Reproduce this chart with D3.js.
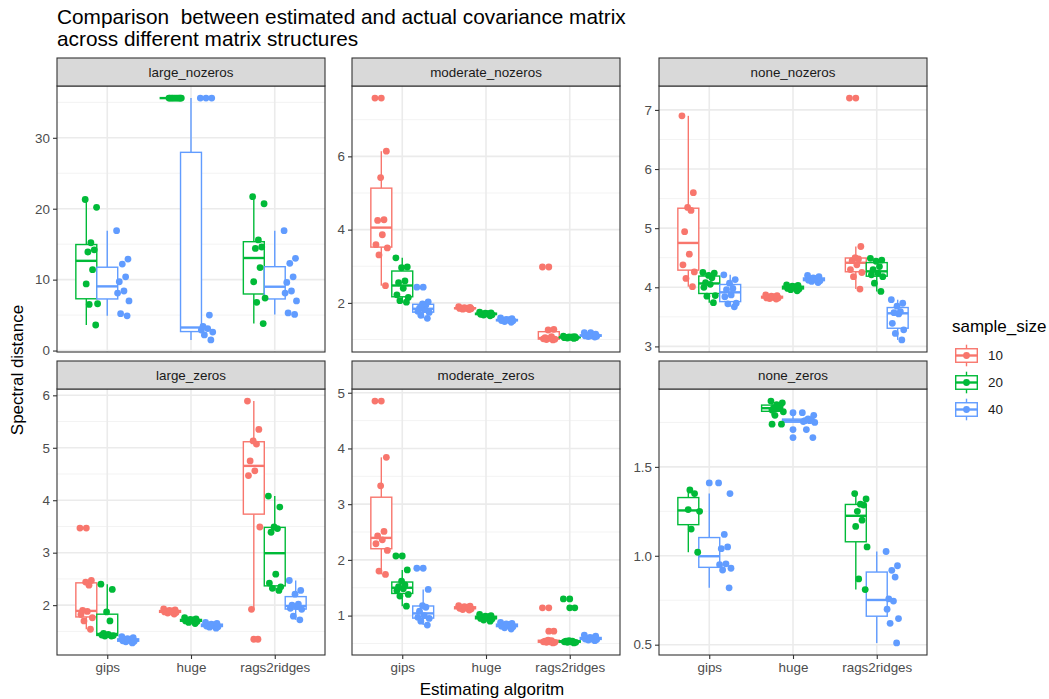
<!DOCTYPE html>
<html>
<head>
<meta charset="utf-8">
<script src="https://cdn.jsdelivr.net/npm/d3@7"></script>
<style>
  body { margin: 0; background: #fff; }
  text { font-family: "Liberation Sans", Arial, sans-serif; }
</style>
</head>
<body>
<div id="chart"></div>
<script>
// facets, categories and groups
const structures = ['large_nozeros', 'moderate_nozeros', 'none_nozeros', 'large_zeros', 'moderate_zeros', 'none_zeros'];
const algorithms = ['gips', 'huge', 'rags2ridges'];
const sampleSizes = ['10', '20', '40'];
const sizeColors = ['#F8766D', '#00BA38', '#619CFF'];

// spectral distance per [algorithm, sample_size, values]
const largeNozeros = [
  ['gips', '20', [3.6, 6.5, 6.6, 9.4, 11.4, 13.9, 14.2, 15.2, 20.2, 21.3]],
  ['gips', '40', [4.9, 5.2, 7.0, 8.1, 8.4, 9.7, 10.4, 12.2, 12.9, 16.9]],
  ['huge', '20', [35.6, 35.6, 35.6, 35.6, 35.6, 35.6, 35.6, 35.6, 35.6, 35.6]],
  ['huge', '40', [1.5, 2.2, 2.6, 2.9, 3.1, 3.4, 5.0, 35.6, 35.6, 35.6]],
  ['rags2ridges', '20', [3.8, 6.8, 7.4, 9.7, 11.7, 14.4, 14.6, 15.6, 20.7, 21.7]],
  ['rags2ridges', '40', [5.1, 5.3, 7.0, 8.1, 8.4, 9.6, 10.4, 12.3, 13.0, 16.9]]
];
const moderateNozeros = [
  ['gips', '10', [2.47, 3.31, 3.50, 3.59, 3.86, 4.25, 4.27, 5.42, 6.14, 7.59]],
  ['gips', '20', [2.02, 2.06, 2.15, 2.22, 2.40, 2.55, 2.60, 2.96, 2.98, 3.23]],
  ['gips', '40', [1.58, 1.66, 1.74, 1.77, 1.82, 1.86, 1.94, 1.97, 2.03, 2.43]],
  ['huge', '10', [1.82, 1.83, 1.84, 1.85, 1.85, 1.86, 1.86, 1.87, 1.88, 1.90]],
  ['huge', '20', [1.65, 1.67, 1.68, 1.69, 1.70, 1.70, 1.71, 1.72, 1.73, 1.75]],
  ['huge', '40', [1.47, 1.49, 1.51, 1.52, 1.53, 1.53, 1.54, 1.55, 1.57, 1.59]],
  ['rags2ridges', '10', [0.99, 1.00, 1.01, 1.02, 1.03, 1.05, 1.08, 1.26, 1.28, 2.98]],
  ['rags2ridges', '20', [1.03, 1.04, 1.05, 1.05, 1.06, 1.06, 1.07, 1.07, 1.08, 1.09]],
  ['rags2ridges', '40', [1.07, 1.08, 1.09, 1.10, 1.10, 1.11, 1.12, 1.13, 1.15, 1.19]]
];
const noneNozeros = [
  ['gips', '10', [4.01, 4.15, 4.26, 4.38, 4.56, 4.94, 5.30, 5.35, 5.60, 6.90]],
  ['gips', '20', [3.74, 3.85, 3.86, 4.00, 4.05, 4.08, 4.16, 4.20, 4.24, 4.25]],
  ['gips', '40', [3.67, 3.72, 3.73, 3.84, 3.87, 3.96, 3.98, 4.07, 4.13, 4.21]],
  ['huge', '10', [3.80, 3.81, 3.82, 3.82, 3.83, 3.83, 3.84, 3.85, 3.86, 3.87]],
  ['huge', '20', [3.94, 3.96, 3.97, 3.98, 3.99, 4.00, 4.01, 4.02, 4.03, 4.04]],
  ['huge', '40', [4.08, 4.10, 4.11, 4.12, 4.13, 4.14, 4.15, 4.16, 4.18, 4.20]],
  ['rags2ridges', '10', [3.97, 4.18, 4.25, 4.30, 4.38, 4.45, 4.48, 4.50, 4.69, 7.20]],
  ['rags2ridges', '20', [3.93, 4.07, 4.18, 4.21, 4.24, 4.30, 4.35, 4.44, 4.46, 4.49]],
  ['rags2ridges', '40', [3.11, 3.22, 3.28, 3.39, 3.55, 3.57, 3.59, 3.68, 3.73, 3.79]]
];
const largeZeros = [
  ['gips', '10', [1.54, 1.70, 1.76, 1.82, 1.88, 1.90, 2.38, 2.44, 2.47, 3.47]],
  ['gips', '20', [1.41, 1.41, 1.42, 1.43, 1.44, 1.46, 1.70, 1.87, 2.30, 2.40]],
  ['gips', '40', [1.28, 1.30, 1.31, 1.32, 1.33, 1.34, 1.35, 1.36, 1.38, 1.40]],
  ['huge', '10', [1.83, 1.85, 1.86, 1.87, 1.87, 1.88, 1.89, 1.90, 1.91, 1.93]],
  ['huge', '20', [1.65, 1.67, 1.69, 1.70, 1.71, 1.71, 1.72, 1.73, 1.74, 1.76]],
  ['huge', '40', [1.56, 1.58, 1.59, 1.60, 1.61, 1.62, 1.63, 1.64, 1.65, 1.67]],
  ['rags2ridges', '10', [1.35, 1.92, 3.49, 4.47, 4.56, 4.75, 5.07, 5.13, 5.35, 5.89]],
  ['rags2ridges', '20', [2.28, 2.32, 2.35, 2.42, 2.59, 3.39, 3.46, 3.49, 3.87, 4.08]],
  ['rags2ridges', '40', [1.72, 1.79, 1.92, 1.94, 1.97, 2.00, 2.02, 2.21, 2.28, 2.47]]
];
const moderateZeros = [
  ['gips', '10', [1.74, 1.80, 2.17, 2.29, 2.36, 2.43, 2.51, 3.33, 3.84, 4.85]],
  ['gips', '20', [1.17, 1.35, 1.38, 1.45, 1.48, 1.52, 1.55, 1.62, 1.82, 2.07]],
  ['gips', '40', [0.83, 0.90, 0.95, 0.97, 1.00, 1.08, 1.15, 1.18, 1.47, 1.85]],
  ['huge', '10', [1.10, 1.11, 1.12, 1.13, 1.14, 1.14, 1.15, 1.16, 1.17, 1.18]],
  ['huge', '20', [0.90, 0.92, 0.94, 0.95, 0.96, 0.97, 0.98, 0.99, 1.00, 1.02]],
  ['huge', '40', [0.76, 0.78, 0.80, 0.81, 0.82, 0.83, 0.84, 0.85, 0.86, 0.88]],
  ['rags2ridges', '10', [0.51, 0.52, 0.52, 0.53, 0.53, 0.54, 0.55, 0.56, 0.72, 1.14]],
  ['rags2ridges', '20', [0.51, 0.52, 0.52, 0.53, 0.53, 0.54, 0.54, 0.55, 1.14, 1.30]],
  ['rags2ridges', '40', [0.55, 0.56, 0.57, 0.58, 0.58, 0.59, 0.60, 0.61, 0.63, 0.65]]
];
const noneZeros = [
  ['gips', '20', [1.02, 1.15, 1.25, 1.26, 1.35, 1.37]],
  ['gips', '40', [0.82, 0.92, 0.93, 0.95, 0.955, 1.04, 1.05, 1.12, 1.35, 1.41]],
  ['huge', '20', [1.74, 1.79, 1.81, 1.82, 1.83, 1.83, 1.84, 1.85, 1.86, 1.87]],
  ['huge', '40', [1.665, 1.71, 1.75, 1.755, 1.76, 1.76, 1.765, 1.77, 1.79, 1.805]],
  ['rags2ridges', '20', [0.81, 0.87, 1.05, 1.165, 1.20, 1.25, 1.285, 1.29, 1.32, 1.35]],
  ['rags2ridges', '40', [0.51, 0.62, 0.647, 0.70, 0.745, 0.758, 0.88, 0.918, 0.944, 1.024]]
];
const panelData = [largeNozeros, moderateNozeros, noneNozeros, largeZeros, moderateZeros, noneZeros];

// y tick labels per facet
const yTicks = [
  [0, 10, 20, 30],
  [2, 4, 6],
  [3, 4, 5, 6, 7],
  [2, 3, 4, 5, 6],
  [1, 2, 3, 4, 5],
  [0.5, 1.0, 1.5]
];
const yFormats = ['d', 'd', 'd', 'd', 'd', '.1f'];

// fixed jitter pattern (fraction of half jitter width)
const jitterPattern = [0.62, -0.35, 0.9, -0.8, 0.15, -0.55, 0.4, -0.1, 0.75, -0.95];

const width = 1049, height = 699;
const panelW = 268, panelH = 266, stripH = 28;
const colX = [57, 352, 659];
const rowY = [58, 361];

const svg = d3.select('#chart').append('svg')
  .attr('width', width)
  .attr('height', height)
  .style('background', '#fff');

const color = d3.scaleOrdinal().domain(sampleSizes).range(sizeColors);

function boxStats(values) {
  const v = values.slice().sort(d3.ascending);
  const q1 = d3.quantile(v, 0.25), med = d3.quantile(v, 0.5), q3 = d3.quantile(v, 0.75);
  const iqr = q3 - q1;
  const inside = v.filter(d => d >= q1 - 1.5 * iqr && d <= q3 + 1.5 * iqr);
  return {
    q1, med, q3,
    lo: d3.min(inside), hi: d3.max(inside),
    outliers: v.filter(d => d < q1 - 1.5 * iqr || d > q3 + 1.5 * iqr)
  };
}

structures.forEach((name, p) => {
  const col = p % 3, row = Math.floor(p / 3);
  const left = colX[col], top = rowY[row] + stripH;
  const groups = panelData[p];

  const x = d3.scalePoint().domain(algorithms).range([0, panelW]).padding(0.6);
  const unit = x.step();

  const all = groups.flatMap(g => g[2]);
  const [mn, mx] = d3.extent(all);
  const pad = (mx - mn) * 0.05;
  const y = d3.scaleLinear().domain([mn - pad, mx + pad]).range([panelH, 0]);

  const g = svg.append('g').attr('transform', `translate(${left},${top})`);

  // minor grid
  const ticks = yTicks[p];
  const stepT = ticks[1] - ticks[0];
  const minor = [];
  for (let i = -1; i < ticks.length; i++) {
    const m = ticks[0] + stepT * (i + 0.5);
    if (m > y.domain()[0] && m < y.domain()[1]) minor.push(m);
  }
  g.selectAll('.minor').data(minor).join('line')
    .attr('x1', 0).attr('x2', panelW)
    .attr('y1', d => y(d)).attr('y2', d => y(d))
    .attr('stroke', '#F3F3F3').attr('stroke-width', 1);
  // major grid
  g.selectAll('.major').data(ticks).join('line')
    .attr('x1', 0).attr('x2', panelW)
    .attr('y1', d => y(d)).attr('y2', d => y(d))
    .attr('stroke', '#EBEBEB').attr('stroke-width', 1.6);
  g.selectAll('.vmajor').data(algorithms).join('line')
    .attr('x1', d => x(d)).attr('x2', d => x(d))
    .attr('y1', 0).attr('y2', panelH)
    .attr('stroke', '#EBEBEB').attr('stroke-width', 1.6);

  // box plots and jittered points
  algorithms.forEach(alg => {
    const present = groups.filter(d => d[0] === alg)
      .sort((a, b) => sampleSizes.indexOf(a[1]) - sampleSizes.indexOf(b[1]));
    const k = present.length;
    present.forEach((grp, i) => {
      const c = color(grp[1]);
      const s = boxStats(grp[2]);
      const cx = x(alg) + (-0.25 + i * 0.25) * unit;
      const bw = 0.25 * unit;
      const bg = g.append('g');
      bg.append('line').attr('x1', cx).attr('x2', cx)
        .attr('y1', y(s.q3)).attr('y2', y(s.hi)).attr('stroke', c).attr('stroke-width', 1.4);
      bg.append('line').attr('x1', cx).attr('x2', cx)
        .attr('y1', y(s.q1)).attr('y2', y(s.lo)).attr('stroke', c).attr('stroke-width', 1.4);
      bg.append('rect')
        .attr('x', cx - bw / 2).attr('width', bw)
        .attr('y', y(s.q3)).attr('height', Math.max(0, y(s.q1) - y(s.q3)))
        .attr('fill', '#fff').attr('stroke', c).attr('stroke-width', 1.4);
      bg.append('line').attr('x1', cx - bw / 2).attr('x2', cx + bw / 2)
        .attr('y1', y(s.med)).attr('y2', y(s.med)).attr('stroke', c).attr('stroke-width', 2.4);
      bg.selectAll('circle').data(s.outliers).join('circle')
        .attr('cx', cx).attr('cy', d => y(d)).attr('r', 3.4).attr('fill', c);
    });
    present.forEach((grp, i) => {
      const c = color(grp[1]);
      const px = x(alg) + (i - (k - 1) / 2) * (0.75 / k) * unit;
      g.append('g').selectAll('circle').data(grp[2]).join('circle')
        .attr('cx', (d, j) => px + jitterPattern[j % jitterPattern.length] * 0.08 * unit)
        .attr('cy', d => y(d))
        .attr('r', 3.4)
        .attr('fill', c);
    });
  });

  // panel border
  g.append('rect').attr('width', panelW).attr('height', panelH)
    .attr('fill', 'none').attr('stroke', '#333333').attr('stroke-width', 1.1);

  // y axis
  const ya = g.append('g')
    .call(d3.axisLeft(y).tickValues(ticks).tickSize(4).tickPadding(3).tickFormat(d3.format(yFormats[p])));
  ya.select('.domain').remove();
  ya.selectAll('line').attr('stroke', '#333333').attr('stroke-width', 1.1);
  ya.selectAll('text').attr('fill', '#4D4D4D').style('font-size', '13.4px')
    .style('font-family', '"Liberation Sans", Arial, sans-serif');

  // x axis only on bottom row
  if (row === 1) {
    const xa = g.append('g').attr('transform', `translate(0,${panelH})`)
      .call(d3.axisBottom(x).tickSize(4).tickPadding(3));
    xa.select('.domain').remove();
    xa.selectAll('line').attr('stroke', '#333333').attr('stroke-width', 1.1);
    xa.selectAll('text').attr('fill', '#4D4D4D').style('font-size', '13.4px')
      .style('font-family', '"Liberation Sans", Arial, sans-serif');
  }

  // strip
  const st = svg.append('g').attr('transform', `translate(${left},${rowY[row]})`);
  st.append('rect').attr('width', panelW).attr('height', stripH)
    .attr('fill', '#D9D9D9').attr('stroke', '#333333').attr('stroke-width', 1.1);
  st.append('text').attr('x', panelW / 2).attr('y', stripH / 2 + 4.7)
    .attr('text-anchor', 'middle').attr('fill', '#1A1A1A').style('font-size', '13.4px')
    .text(name);
});

// title
const title = svg.append('text').attr('x', 57).attr('y', 24).style('font-size', '20.8px').attr('fill', '#000');
title.append('tspan').attr('x', 57).text('Comparison\u00a0 between estimated and actual covariance matrix');
title.append('tspan').attr('x', 57).attr('dy', 22).text('across different matrix structures');

// axis titles
svg.append('text').attr('x', (colX[0] + colX[2] + panelW) / 2).attr('y', 695)
  .attr('text-anchor', 'middle').style('font-size', '17px').text('Estimating algoritm');
svg.append('text').attr('transform', 'translate(23,370) rotate(-90)')
  .attr('text-anchor', 'middle').style('font-size', '17px').text('Spectral distance');

// legend
const lg = svg.append('g').attr('transform', 'translate(952,0)');
lg.append('text').attr('x', 0).attr('y', 332).style('font-size', '17px').text('sample_size');
const keyS = 27;
sampleSizes.forEach((s, i) => {
  const ky = 342 + i * keyS;
  const c = color(s);
  const kg = lg.append('g').attr('transform', `translate(1,${ky})`);
  kg.append('line').attr('x1', keyS / 2).attr('x2', keyS / 2).attr('y1', keyS * 0.1).attr('y2', keyS * 0.9)
    .attr('stroke', c).attr('stroke-width', 1.4);
  kg.append('rect').attr('x', keyS * 0.1).attr('y', keyS * 0.25).attr('width', keyS * 0.8).attr('height', keyS * 0.5)
    .attr('fill', '#fff').attr('stroke', c).attr('stroke-width', 1.4);
  kg.append('line').attr('x1', keyS * 0.1).attr('x2', keyS * 0.9).attr('y1', keyS / 2).attr('y2', keyS / 2)
    .attr('stroke', c).attr('stroke-width', 2.4);
  kg.append('circle').attr('cx', keyS / 2).attr('cy', keyS / 2).attr('r', 3.4).attr('fill', c);
  lg.append('text').attr('x', 36).attr('y', ky + keyS / 2 + 4.7).style('font-size', '13.4px')
    .attr('fill', '#1A1A1A').text(s);
});
</script>
</body>
</html>
